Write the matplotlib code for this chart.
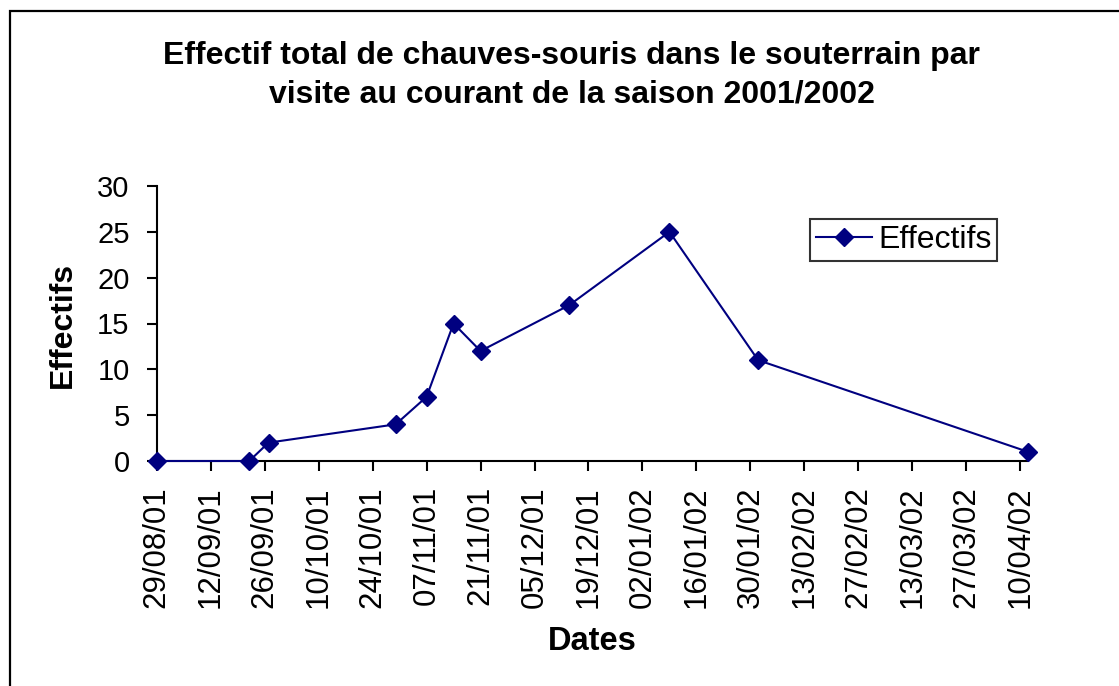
import datetime as dt
import matplotlib
matplotlib.use('Agg')
import matplotlib.pyplot as plt
import matplotlib.dates as mdates
from matplotlib.patches import Rectangle

# visit dates and bat counts
visit_dates = ['29/08/01', '22/09/01', '27/09/01', '30/10/01', '07/11/01',
               '14/11/01', '21/11/01', '14/12/01', '09/01/02', '01/02/02',
               '12/04/02']
effectifs = [0, 0, 2, 4, 7, 15, 12, 17, 25, 11, 1]

dates = [dt.datetime.strptime(d, '%d/%m/%y') for d in visit_dates]

plt.rcParams['font.family'] = ['Liberation Sans', 'DejaVu Sans']

fig = plt.figure(figsize=(11.19, 6.86), dpi=100)
W, H = 1119, 686

# outer chart border (Excel chart area)
fig.patches.append(Rectangle((10 / W, -0.1), 1.2, 1 - 11 / H + 0.1,
                             transform=fig.transFigure, fill=False,
                             edgecolor='black', linewidth=1.6))

ax_w = 1028 - 156.7
ax = fig.add_axes([156.7 / W, (H - 461) / H, ax_w / W, 275 / H])

ax.plot(dates, effectifs, color='#000080', linewidth=1.5, marker='D',
        markersize=9.5, label='Effectifs', clip_on=False, zorder=5)

ax.set_ylim(0, 30)
ax.set_yticks(range(0, 31, 5))
ax.set_xlim(dates[0], dates[-1])
ticks = [dates[0] + dt.timedelta(days=14 * i) for i in range(17)]
ax.set_xticks(ticks)
ax.xaxis.set_major_formatter(mdates.DateFormatter('%d/%m/%y'))
for lab in ax.get_xticklabels():
    lab.set_rotation(90)

ax.spines['top'].set_visible(False)
ax.spines['right'].set_visible(False)
for s in ('left', 'bottom'):
    ax.spines[s].set_linewidth(1.5)
ax.tick_params(axis='both', direction='out', length=7.5, width=1.5)
ax.tick_params(axis='y', labelsize=21, pad=12)
ax.tick_params(axis='x', labelsize=22.5, pad=10.5)

ax.set_xlabel('Dates', fontsize=23.5, fontweight='bold')
ax.set_ylabel('Effectifs', fontsize=23, fontweight='bold')
ax.xaxis.set_label_coords((592 - 156.7) / ax_w, (461 - 642) / 275)
ax.yaxis.set_label_coords((63 - 156.7) / ax_w, (461 - 324.5) / 275)
ax.xaxis.label.set_va('center')
ax.yaxis.label.set_va('center')

fig.text(0.511, 1 - 75 / H,
         'Effectif total de chauves-souris dans le souterrain par\nvisite au courant de la saison 2001/2002',
         ha='center', va='center', fontsize=23, fontweight='bold',
         linespacing=1.38)

leg = ax.legend(loc='upper left',
                bbox_to_anchor=((810 - 156.7) / ax_w, (461 - 219) / 275),
                fontsize=23, frameon=True, fancybox=False, handlelength=1.75,
                borderpad=0.18, handletextpad=0.2, borderaxespad=0)
leg.get_frame().set_edgecolor('black')
leg.get_frame().set_linewidth(1.5)

fig.savefig('out.png', dpi=100)
